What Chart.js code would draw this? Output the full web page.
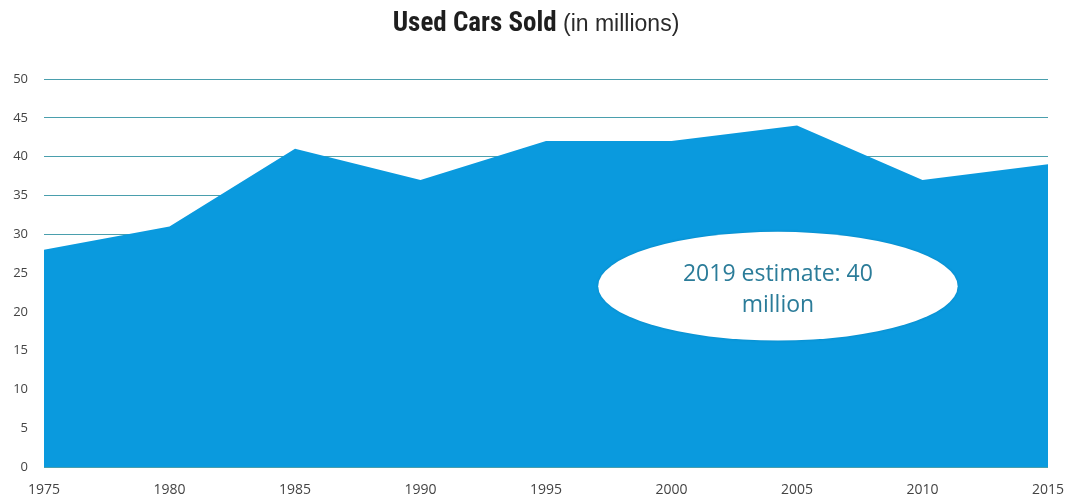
<!DOCTYPE html>
<html>
<head>
<meta charset="utf-8">
<script src="https://cdn.jsdelivr.net/npm/chart.js@4/dist/chart.umd.min.js"></script>
<style>
  html, body { margin: 0; padding: 0; background: #ffffff; }
  #wrap { width: 1065px; height: 498px; position: relative; }
</style>
</head>
<body>
<div id="wrap"><canvas id="c" width="1065" height="498"></canvas></div>
<script>
const years = ['1975','1980','1985','1990','1995','2000','2005','2010','2015'];
const usedCarsSold = [28, 31, 41, 37, 42, 42, 44, 37, 39];
const yTicks = [0, 5, 10, 15, 20, 25, 30, 35, 40, 45, 50];
const titleBold = 'Used Cars Sold';
const titleRegular = ' (in millions)';
const noteLines = ['2019 estimate: 40', 'million'];

const titlePlugin = {
  id: 'titlePlugin',
  afterDraw(chart) {
    const ctx = chart.ctx;
    ctx.save();
    const boldFont = 'bold 27px "Liberation Sans Narrow", "Roboto Condensed", "Liberation Sans", sans-serif';
    const regFont = '23px "Liberation Sans Narrow", "Liberation Sans", sans-serif';
    ctx.font = boldFont;
    const w1 = ctx.measureText(titleBold).width;
    ctx.font = regFont;
    const w2 = ctx.measureText(titleRegular).width;
    const cx = 536;
    let x = cx - (w1 + w2) / 2;
    const y = 24;
    ctx.textBaseline = 'middle';
    ctx.textAlign = 'left';
    ctx.fillStyle = '#1e1e1e';
    ctx.font = boldFont;
    ctx.fillText(titleBold, x, y);
    ctx.fillStyle = '#2a2a2a';
    ctx.font = regFont;
    ctx.fillText(titleRegular, x + w1, y + 1);
    ctx.restore();
  }
};

const notePlugin = {
  id: 'notePlugin',
  afterDatasetsDraw(chart) {
    const ctx = chart.ctx;
    const a = chart.chartArea;
    const ys = chart.scales.y;
    const cx = a.left + 0.731 * (a.right - a.left);
    const cy = ys.getPixelForValue(23.3);
    const rx = 0.179 * (a.right - a.left);
    const ry = ys.getPixelForValue(0) - ys.getPixelForValue(7);
    ctx.save();
    ctx.shadowColor = 'rgba(0,0,0,0.12)';
    ctx.shadowBlur = 3;
    ctx.beginPath();
    ctx.ellipse(cx, cy, rx, ry, 0, 0, Math.PI * 2);
    ctx.fillStyle = '#ffffff';
    ctx.fill();
    ctx.shadowColor = 'transparent';
    ctx.fillStyle = '#2b7c99';
    ctx.font = '23px "Open Sans", "Noto Sans", sans-serif';
    ctx.textAlign = 'center';
    ctx.textBaseline = 'middle';
    ctx.fillText(noteLines[0], cx, cy - 12);
    ctx.fillText(noteLines[1], cx, cy + 19);
    ctx.restore();
  }
};

new Chart(document.getElementById('c'), {
  type: 'line',
  data: {
    labels: years,
    datasets: [{
      data: usedCarsSold,
      fill: 'origin',
      backgroundColor: '#0a9ade',
      borderColor: '#0a9ade',
      borderWidth: 0,
      pointRadius: 0,
      tension: 0
    }]
  },
  options: {
    responsive: false,
    animation: false,
    devicePixelRatio: 1,
    layout: { padding: { top: 79, right: 17, bottom: 0, left: 0 } },
    plugins: { legend: { display: false }, tooltip: { enabled: false }, title: { display: false } },
    scales: {
      x: {
        type: 'category',
        offset: false,
        grid: { display: false, drawTicks: false },
        border: { display: false },
        ticks: {
          maxRotation: 0,
          autoSkip: false,
          padding: 15,
          color: '#444',
          font: { family: '"Open Sans", "Noto Sans", sans-serif', size: 14 }
        },
        afterFit(s) { s.height = 31; s.paddingLeft = 0; s.paddingRight = 0; }
      },
      y: {
        min: 0,
        max: 50,
        afterBuildTicks(s) { s.ticks = yTicks.map(v => ({ value: v })); },
        grid: { color: '#4a9fad', lineWidth: 1, drawTicks: false },
        border: { display: false },
        ticks: {
          padding: 16,
          color: '#444',
          font: { family: '"Open Sans", "Noto Sans", sans-serif', size: 13 }
        },
        afterFit(s) { s.width = 44; }
      }
    }
  },
  plugins: [titlePlugin, notePlugin]
});
</script>
</body>
</html>
